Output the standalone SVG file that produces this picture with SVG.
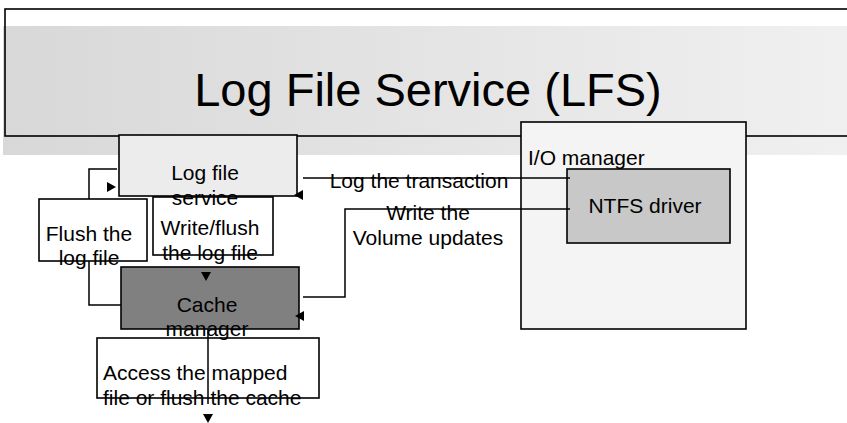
<svg xmlns="http://www.w3.org/2000/svg" width="847" height="423" viewBox="0 0 847 423">
<style>
  text { font-family: "Liberation Sans", Arial, sans-serif; font-size: 21px; fill: #000; }
  .title { font-size: 47px; }
  .box { stroke: #000; stroke-width: 1.6; }
  .conn { fill: none; stroke: #000; stroke-width: 1.5; }
  .mid { text-anchor: middle; }
</style>
<defs>
  <linearGradient id="band" x1="0" y1="0" x2="1" y2="0">
    <stop offset="0" stop-color="#d8d8d8"/>
    <stop offset="1" stop-color="#f0f0f0"/>
  </linearGradient>
  <path id="ah" d="M-9,-5 L0,0 L-9,5 Z" fill="#000"/>
</defs>
<rect width="847" height="423" fill="#fff"/>

<g id="title">
  <rect x="3" y="26" width="844" height="129" fill="url(#band)"/>
  <rect x="5" y="9" width="850" height="127" fill="none" stroke="#000" stroke-width="1.6"/>
  <text class="title mid" x="428" y="106">Log File Service (LFS)</text>
</g>

<g id="io-manager">
  <rect class="box" x="521" y="122" width="225" height="207" fill="#f4f4f4"/>
  <text x="528" y="165">I/O manager</text>
</g>

<g id="ntfs-driver">
  <rect class="box" x="567" y="169" width="163" height="74" fill="#c8c8c8"/>
  <text class="mid" x="645" y="213">NTFS driver</text>
</g>

<g id="write-flush">
  <rect class="box" x="153" y="197" width="120" height="58" fill="#fff"/>
  <text class="mid" x="210" y="235">Write/flush</text>
  <text class="mid" x="210" y="260">the log file</text>
</g>

<g id="flush-log">
  <rect class="box" x="39" y="199" width="108" height="62" fill="#fff"/>
  <text class="mid" x="89" y="241">Flush the</text>
  <text class="mid" x="89" y="265">log file</text>
</g>

<g id="access">
  <rect class="box" x="97" y="338" width="222" height="60" fill="#fff"/>
  <text x="103" y="380">Access the mapped</text>
  <text x="103" y="405">file or flush the cache</text>
</g>

<g id="cache-manager">
  <rect class="box" x="121" y="267" width="178" height="62" fill="#808080"/>
  <text class="mid" x="207" y="312">Cache</text>
  <text class="mid" x="207" y="336">manager</text>
</g>

<g id="log-file-service">
  <rect class="box" x="119" y="135" width="178" height="61" fill="#ececec"/>
  <text class="mid" x="205" y="180">Log file</text>
  <text class="mid" x="205" y="205">service</text>
</g>

<g id="connectors">
  <polyline class="conn" points="89,199 89,169 117,169"/>
  <polyline class="conn" points="89,261 89,305 121,305"/>
  <line class="conn" x1="303" y1="178" x2="570" y2="178"/>
  <polyline class="conn" points="303,297 345,297 345,209 570,209"/>
  <line class="conn" x1="208" y1="329" x2="208" y2="404"/>
  <use href="#ah" transform="translate(116,187)"/>
  <use href="#ah" transform="translate(294,195) rotate(180)"/>
  <use href="#ah" transform="translate(206,281) rotate(90)"/>
  <use href="#ah" transform="translate(295,316) rotate(180)"/>
  <use href="#ah" transform="translate(208,423) rotate(90)"/>
  <text class="mid" x="419" y="188">Log the transaction</text>
  <text class="mid" x="428" y="220">Write the</text>
  <text class="mid" x="428" y="245">Volume updates</text>
</g>
</svg>
